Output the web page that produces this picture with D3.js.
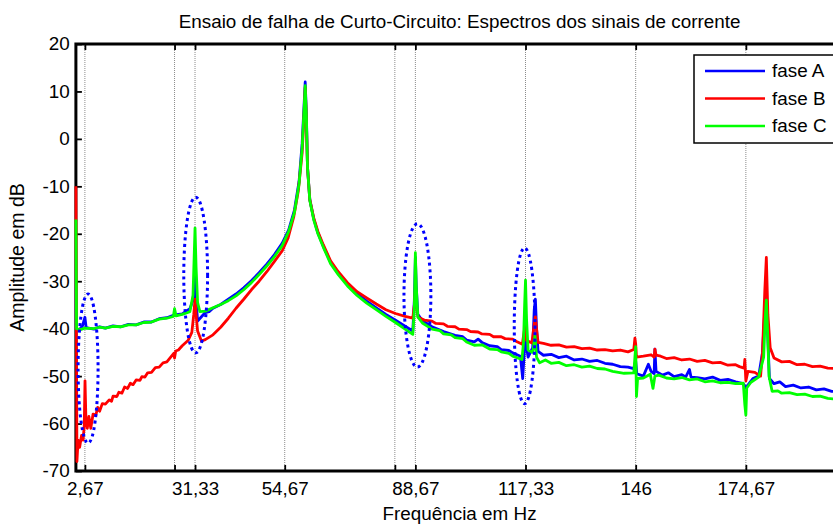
<html>
<head>
<meta charset="utf-8">
<style>
  body { margin: 0; background: #fff; }
  svg { display: block; font-family: 'Liberation Sans', Arial, Helvetica, sans-serif; }
  .axis .domain { display: none; }
  .axis .tick line { stroke: #000; stroke-width: 1.8; }
  .axis .tick text { font-size: 18.5px; fill: #000; }
  .grid line { stroke: #8c8c8c; stroke-width: 1; stroke-dasharray: 1 1; }
  .serie { fill: none; stroke-width: 2.8; stroke-linejoin: round; }
  .label { font-size: 18.5px; fill: #000; }
</style>
</head>
<body>
<svg width="833" height="525"></svg>

<script src="https://d3js.org/d3.v7.min.js"></script>
<script>

// x ticks (the two empty labels are ticks without text)
let xTicks = [2.67, 26, 31.33, 54.67, 83.33, 88.67, 117.33, 146, 174.67]
let xTickLabels = ["2,67", "", "31,33", "54,67", "", "88,67", "117,33", "146", "174,67"]
let yTicks = [-70, -60, -50, -40, -30, -20, -10, 0, 10, 20]

let seriesNames = ["fase A", "fase B", "fase C"]
let seriesColors = ["#0000ff", "#ff0000", "#00ff00"]

// [Hz, dB]
let faseA = [[0.33,-40],[1,-40.4],[2,-39.5],[2.67,-37.6],[3,-39.8],[5,-40.1],[6.5,-39.6],[8,-39.9],[10,-39.4],[12,-39.6],
  [14,-39.1],[16,-39.2],[18,-38.6],[20,-38.6],[22,-37.9],[24,-37.7],[26,-37.1],[28,-36.9],[30,-35.8],[30.8,-34],
  [31.2,-30],[31.33,-28],[31.6,-34],[32,-38.4],[33,-37.5],[34,-36.6],[35,-36.4],[36,-35.7],[38,-34.9],[40,-33.8],
  [42,-32.7],[44,-31.4],[46,-29.9],[48,-28.2],[50,-26.4],[52,-24.4],[54,-22],[55.7,-19.2],[57.2,-15],[58.4,-9],
  [59.2,-1],[59.7,7],[60,12],[60.3,5.5],[60.6,-6],[61.2,-12.8],[62.2,-16.8],[63.3,-19.8],[64.7,-22.6],[66.6,-26],
  [68.6,-28.3],[71,-30.6],[73.5,-32.6],[76,-34.2],[78.5,-35.6],[81,-37],[83.5,-38.2],[86,-39.5],[88,-40.5],
  [88.4,-34],[88.67,-25],[88.9,-31],[89.3,-37],[90.5,-38.3],[93,-39.6],[96,-40.6],[99,-41.4],[101,-41.7],
  [102,-42.4],[104,-42.8],[105,-42.2],[106,-42.9],[108,-43.6],[110,-43.8],[111,-44.4],[113,-44.6],[114,-45.1],
  [116,-45.8],[116.6,-50.5],[117,-45],[117.33,-36],[117.6,-44],[118,-46],[119.2,-44],[119.6,-36],[119.9,-33.8],
  [120.2,-40],[120.6,-44.8],[122,-45.6],[124,-45.4],[126,-46.1],[128,-45.8],[130,-46.6],[132,-46.4],[134,-46.9],
  [136,-46.7],[138,-47.3],[140,-47.5],[142,-48],[144,-48.1],[145.5,-48.4],[146,-46.8],[146.3,-49.5],[148,-50],
  [149.3,-47.5],[150,-49],[150.8,-49.5],[151,-44.3],[151.3,-49],[153,-49.8],[154.5,-49.3],[156,-50.1],[158,-49.7],
  [159,-50.2],[160,-48.6],[160.4,-50.2],[162,-50.3],[164,-50.6],[166,-50.2],[168,-50.9],[170,-50.7],[172,-51.2],
  [174,-51.6],[174.67,-52.5],[175.3,-51.8],[176.5,-50.5],[178,-50],[179,-45],[179.6,-36],[180,-32.5],[180.3,-40],
  [180.8,-50.5],[182,-51.6],[183.5,-51.2],[185,-52.2],[187,-51.9],[189,-52.5],[191,-52.3],[193,-52.9],[195,-52.7],
  [197,-53.2],[200,-53.4]]

let faseB = [[0.33,-10],[0.6,-68],[0.9,-63.5],[1.3,-65],[1.8,-62.5],[2.2,-63.5],[2.5,-60.5],[2.7,-51],[2.95,-59.5],
  [3.3,-61],[3.7,-58.5],[4.2,-61],[4.8,-58],[5.5,-58.3],[6,-56.6],[6.5,-57.4],[7.2,-55.8],[8,-55.9],[9,-55],
  [9.6,-55.3],[10,-54.2],[11,-54.3],[11.5,-53.4],[12.3,-53.6],[13,-52.3],[13.8,-52.6],[14.5,-51.5],[15.2,-51.8],
  [16,-50.8],[17,-50.9],[17.5,-50.1],[18.3,-50.2],[19,-49.3],[20,-49.2],[21,-48.2],[22,-48.1],[23,-47.2],[24,-47],
  [25,-46],[25.8,-45.2],[26,-46.2],[26.3,-44.7],[27,-44.5],[28,-43.6],[29.5,-42.5],[30.5,-40.8],[31,-37],
  [31.33,-33.8],[31.6,-37],[32,-40.5],[33,-42.6],[34,-42.3],[36,-41.3],[38,-39.7],[40,-37.8],[42,-35.7],[44,-33.8],
  [46,-31.8],[48,-30],[50,-28],[52,-25.8],[54,-23.6],[55.5,-21],[57,-16.5],[58.2,-11],[59.2,-3],[59.7,5],
  [60,10.8],[60.3,4],[60.6,-6],[61.2,-12.8],[62.2,-16.6],[63.3,-19.5],[64.7,-22.3],[66.6,-25.7],[68.6,-28],
  [71,-30.3],[73.5,-32.2],[76,-33.5],[78.5,-34.8],[81,-36],[83.5,-36.8],[86,-37.4],[88,-37.8],[88.4,-35],
  [88.67,-31.5],[88.9,-35],[89.4,-37.6],[91,-38.2],[93,-38.4],[94,-38.9],[96,-39],[97,-39.5],[99,-39.6],
  [100,-40.1],[102,-40.2],[103,-40.6],[105,-40.7],[106,-41.1],[108,-41.2],[109,-41.7],[111,-41.7],[112,-42.1],
  [114,-42.2],[115,-42.7],[116.5,-43.3],[117,-40.5],[117.33,-39],[117.6,-42.5],[119,-43],[119.6,-39],[119.9,-37.4],
  [120.2,-40],[120.6,-42.9],[122,-43.1],[124,-43.5],[126,-43.4],[128,-43.9],[130,-43.8],[132,-44.2],[134,-44.1],
  [136,-44.5],[138,-44.4],[140,-44.7],[142,-44.5],[144,-44.9],[145.5,-44.4],[145.8,-42],[146,-43.2],[146.2,-46],
  [148,-45.8],[150,-45.5],[150.8,-46],[151,-44.3],[151.3,-45.6],[152.5,-45.8],[154,-46.3],[156,-46.1],[158,-46.6],
  [160,-46.4],[162,-46.9],[164,-46.7],[166,-47.2],[168,-47.1],[170,-47.7],[172,-47.6],[173,-48],[174.2,-48.3],
  [174.4,-46.5],[174.67,-51],[175.2,-49],[177,-49.2],[178.5,-50],[179,-45],[179.6,-32],[180,-25],[180.4,-37],
  [181,-44],[182,-46.2],[184,-47],[186,-46.9],[188,-47.6],[190,-47.5],[192,-48],[194,-47.9],[196,-48.3],[200,-48.5]]

let faseC = [[0.33,-17],[0.5,-40],[1.5,-40.2],[2.67,-39.9],[5,-40],[6.5,-39.7],[8,-39.9],[10,-39.5],[12,-39.6],[14,-39.2],
  [16,-39.2],[18,-38.7],[20,-38.6],[22,-38],[24,-37.8],[25.7,-37.4],[26,-35.8],[26.4,-37.3],[28,-37],[30,-36.4],
  [30.8,-33],[31.1,-25],[31.33,-18.8],[31.6,-27],[32,-34.5],[32.6,-36.4],[34,-36.3],[36,-35.6],[38,-34.9],[40,-34.1],
  [42,-33.1],[44,-31.8],[46,-30.3],[48,-28.6],[50,-26.8],[52,-24.8],[54,-22.5],[55.7,-19.5],[57.2,-15.5],
  [58.4,-9.5],[59.2,-2],[59.7,6],[60,11.2],[60.3,5],[60.6,-6],[61.2,-13],[62.2,-17],[63.3,-20],[64.7,-22.8],
  [66.6,-26.3],[68.6,-28.6],[71,-31],[73.5,-33],[76,-34.6],[78.5,-36],[81,-37.4],[83.5,-38.7],[86,-40.1],
  [88,-41.2],[88.4,-36],[88.67,-24],[88.9,-31],[89.3,-37.5],[90.5,-38.8],[93,-40.1],[95,-40.4],[96,-41.1],
  [98,-41.3],[99,-41.9],[101,-42.1],[102,-42.8],[104,-43.5],[106,-43.4],[108,-44.3],[110,-44.4],[111,-44.9],
  [113,-45.2],[114,-45.8],[116.4,-46.5],[116.8,-43],[117.1,-35],[117.33,-29.8],[117.6,-38],[118,-44.5],[119.2,-45],
  [119.8,-41.5],[120.2,-46],[121,-47.2],[122.5,-46.6],[124,-47.3],[126,-47.1],[128,-47.8],[130,-47.6],[132,-48.1],
  [134,-47.9],[136,-48.4],[138,-48.5],[140,-49],[143,-49.4],[145.5,-49.3],[145.8,-46],[146,-43.8],[146.2,-54.3],
  [146.5,-50.5],[148,-50.4],[149.8,-49.6],[150.5,-52.6],[151,-50],[152,-49.8],[154,-50.4],[156,-50.6],[158,-50.3],
  [160,-50.8],[162,-50.6],[164,-51.2],[166,-51],[168,-51.4],[170,-51.3],[172,-51.6],[174,-51.5],[174.4,-56],
  [174.67,-58.2],[174.9,-52.5],[176,-51.3],[178,-50.2],[179.3,-46],[179.7,-38],[180,-34],[180.3,-40],[180.7,-50],
  [181.5,-53.2],[183,-53.1],[184,-53.6],[186,-53.5],[188,-53.9],[190,-53.8],[192,-54.3],[194,-54.2],[196,-54.7],
  [200,-55]]

// dotted ellipses: [centre Hz, centre dB, half width Hz, half height dB]
let marks = [[3.5, -48.4, 2.6, 15.7], [31.5, -28.7, 3.1, 16.4], [89.2, -33, 3.5, 15.1], [117.1, -39.4, 2.7, 16.4]]

let SX = 1.02   // text in the original is a touch wider than Arial

let svg = d3.select("svg")

let box = {left: 75.9, right: 843.2, top: 44, bottom: 471}

let x = d3.scaleLinear().domain([0.33, 200]).range([box.left, box.right])
let y = d3.scaleLinear().domain([-70, 20]).range([box.bottom, box.top])

svg.append("defs").append("clipPath").attr("id", "plot")
    .append("rect").attr("x", box.left - 2).attr("y", box.top)
    .attr("width", box.right - box.left + 2).attr("height", box.bottom - box.top)

// grid
svg.append("g").attr("class", "grid")
    .selectAll("line").data(xTicks).join("line")
    .attr("x1", d => x(d)).attr("x2", d => x(d))
    .attr("y1", box.top).attr("y2", box.bottom)

// axes
svg.append("g").attr("class", "x axis")
    .attr("transform", `translate(0,${box.bottom})`)
    .call(d3.axisBottom(x).tickValues(xTicks).tickFormat((d, i) => xTickLabels[i]).tickSize(-6).tickPadding(10.5))
    .call(g => g.selectAll(".tick text").attr("transform", `scale(${SX},1)`))

svg.append("g").attr("class", "x axis")
    .attr("transform", `translate(0,${box.top})`)
    .call(d3.axisTop(x).tickValues(xTicks).tickFormat("").tickSize(-6))

svg.append("g").attr("class", "y axis")
    .attr("transform", `translate(${box.left},0)`)
    .call(d3.axisLeft(y).tickValues(yTicks).tickFormat(d => String(d)).tickSize(-6).tickPadding(6))
    .call(g => g.selectAll(".tick text").attr("transform", `scale(${SX},1)`))

// frame
svg.append("path")
    .attr("d", `M${box.right},${box.top}H${box.left}V${box.bottom}H${box.right}V${box.top}`)
    .attr("fill", "none").attr("stroke", "#000").attr("stroke-width", 3)

// series
let line = d3.line().x(d => x(d[0])).y(d => y(d[1]))

svg.append("g").attr("clip-path", "url(#plot)")
    .selectAll("path").data([faseA, faseB, faseC]).join("path")
    .attr("class", "serie")
    .attr("stroke", (d, i) => seriesColors[i])
    .attr("d", line)

// ellipses
svg.append("g").selectAll("ellipse").data(marks).join("ellipse")
    .attr("cx", d => x(d[0])).attr("cy", d => y(d[1]))
    .attr("rx", d => x(d[0] + d[2]) - x(d[0]))
    .attr("ry", d => y(d[1] - d[3]) - y(d[1]))
    .attr("fill", "none").attr("stroke", "#0000ff")
    .attr("stroke-width", 3).attr("stroke-dasharray", "3 3.5")

// texts
function stext(px, py, s, anchor) {
    return svg.append("text").attr("class", "label")
        .attr("transform", `translate(${px},${py}) scale(${SX},1)`)
        .attr("text-anchor", anchor).text(s)
}

stext((box.left + box.right) / 2, 28, "Ensaio de falha de Curto-Circuito: Espectros dos sinais de corrente", "middle")
stext((box.left + box.right) / 2, 520, "Frequência em Hz", "middle")

svg.append("text").attr("class", "label")
    .style("font-size", "19.5px")
    .attr("transform", `translate(24,${(box.top + box.bottom) / 2}) rotate(-90)`)
    .attr("text-anchor", "middle").text("Amplitude em dB")

// legend
let lg = svg.append("g")
lg.append("rect").attr("x", 694).attr("y", 55).attr("width", 170).attr("height", 88)
    .attr("fill", "#fff").attr("stroke", "#000").attr("stroke-width", 1.5)

seriesNames.forEach((name, i) => {
    let ly = 71 + i * 27.5
    lg.append("line").attr("x1", 705).attr("x2", 765).attr("y1", ly).attr("y2", ly)
        .attr("stroke", seriesColors[i]).attr("stroke-width", 2.6)
    stext(772, ly + 6, name, "start")
})

</script>
</body>
</html>
